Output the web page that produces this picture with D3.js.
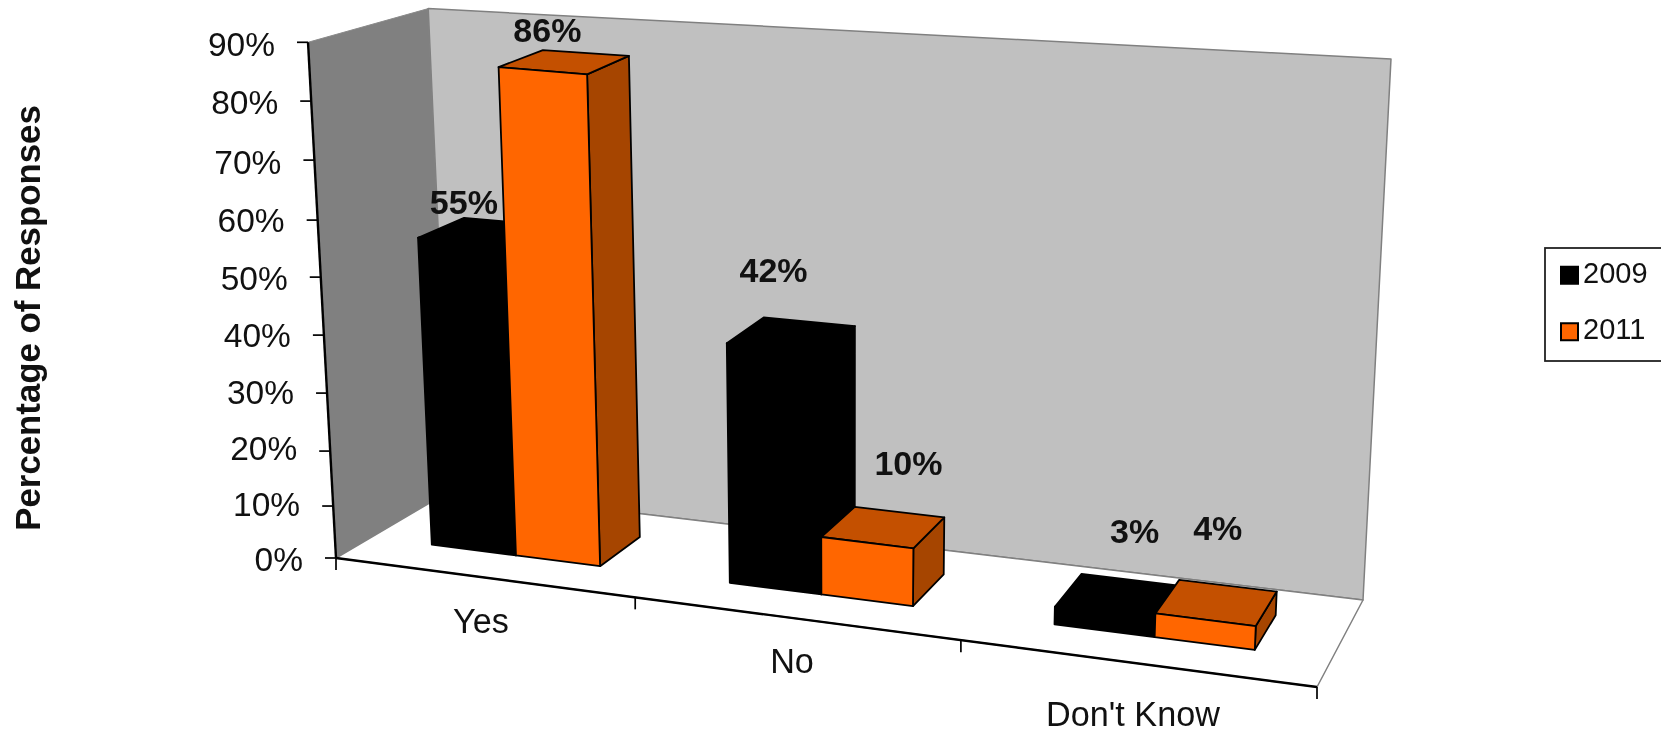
<!DOCTYPE html>
<html><head><meta charset="utf-8">
<script src="https://cdn.jsdelivr.net/npm/d3@7"></script>
<style>html,body{margin:0;background:#fff}svg{display:block;filter:blur(0.7px)}text{font-family:"Liberation Sans",Arial,sans-serif;fill:#111}</style>
</head><body><svg id="c" width="1661" height="732"></svg>
<script>
// ---- data ----
const categories = ["Yes", "No", "Don't Know"];
const seriesNames = ["2009", "2011"];
const values2009 = [55, 42, 3];
const values2011 = [86, 10, 4];
const valueTicks = [0, 10, 20, 30, 40, 50, 60, 70, 80, 90];
const axisTitle = "Percentage of Responses";

// ---- layout ----
const faces = {
  "2009": {front: "#000", top: "#000", side: "#000"},
  "2011": {front: "#FF6600", top: "#C45000", side: "#A64500"}
};
// label nudges from the centre of each bar's top face (hand-moved in the original)
const labelNudge = {
  "2009": [[-20, -29], [-18, -64], [17, -65]],
  "2011": [[-17, -31], [25, -64], [1, -74]]
};
const svg = d3.select("#c");

// perspective: floor corners, and how category units spread along the floor
const uOfCat = d3.scaleLinear().domain([0, 1, 2, 3]).range([0, 0.305, 0.637, 1]);
const frontX = d3.scaleLinear().domain([0, 1]).range([336, 1317]);
const frontY = d3.scaleLinear().domain([0, 1]).range([558, 687]);
const backX = d3.scaleLinear().domain([0, 1]).range([450, 1363]);
const backY = d3.scaleLinear().domain([0, 1]).range([491, 600]);
const frontH = d3.scaleLinear().domain([0, 1]).range([5.73, 6.1]);
const backH = d3.scaleLinear().domain([0, 1]).range([5.36, 6.01]);
const lean = d3.scaleLinear().domain([336, 1363]).range([-0.311, 0.311]);
// value axis tick marks are slightly uneven in the picture; bars follow a gentler curve
const tickUnits = d3.scaleLinear().domain(valueTicks)
  .range([0, 9.07, 18.66, 28.78, 38.9, 49.02, 58.97, 69.44, 79.74, 90]);
const barUnits = d3.scaleLinear().domain([0, 50, 90]).range([0, 49.3, 90]);
const tickLabelY = d3.scaleLinear().domain(valueTicks)
  .range([559.3, 504.2, 448, 392, 335.8, 278.6, 220.3, 162, 102.8, 44.5]);

function project(cat, z, v, units) {
  const u = uOfCat(cat);
  const bx = d3.interpolateNumber(frontX(u), backX(u))(z);
  const by = d3.interpolateNumber(frontY(u), backY(u))(z);
  const h = d3.interpolateNumber(frontH(u), backH(u))(z);
  const w = (units || barUnits)(v);
  return [bx + lean(bx) * w, by - h * w];
}
const line = d3.line();
const closed = pts => line(pts) + "Z";
const poly = (pts, fill, stroke, sw) => svg.append("path").attr("d", closed(pts))
  .attr("fill", fill).attr("stroke", stroke || "none").attr("stroke-width", sw || 0).attr("stroke-linejoin", "round");

// ---- walls and floor ----
poly([project(0,0,0), project(0,1,0), project(0,1,90), project(0,0,90)], "#808080", "#8a8a8a", 1);
poly([project(0,1,0), project(3,1,0), project(3,1,90), project(0,1,90)], "#C0C0C0", "#808080", 1.5);
poly([project(0,0,0), project(3,0,0), project(3,1,0), project(0,1,0)], "#fff", "#808080", 1.5);

// ---- axes ----
const ax = (a, b, w) => svg.append("line").attr("x1", a[0]).attr("y1", a[1]).attr("x2", b[0]).attr("y2", b[1])
  .attr("stroke", "#000").attr("stroke-width", w);
ax(project(0,0,0), project(0,0,90), 2.4);
ax(project(0,0,0), project(3,0,0), 2.4);
valueTicks.forEach(t => {
  const p = project(0,0,t,tickUnits);
  ax([p[0] - 11, p[1]], p, 1.7);
  svg.append("text").attr("x", p[0] - 33).attr("y", tickLabelY(t) + 11.5).attr("text-anchor", "end")
    .attr("font-size", 33.5).text(t + "%");
});
d3.range(0, 4).forEach(c => { const p = project(c,0,0); ax(p, [p[0], p[1] + 12], 1.7); });
const catLabelAt = [[481, 622], [792, 662], [1133, 715]];
categories.forEach((c, i) => {
  svg.append("text").attr("x", catLabelAt[i][0]).attr("y", catLabelAt[i][1] + 11)
    .attr("text-anchor", "middle").attr("font-size", 34.2).text(c);
});
svg.append("text").attr("transform", "translate(40,318) rotate(-90)").attr("text-anchor", "middle")
  .attr("font-size", 34.8).attr("font-weight", "bold").text(axisTitle);

// ---- bars ----
const inner = d3.scaleBand().domain(seriesNames).range([0.205, 0.78]);
const seriesValues = {"2009": values2009, "2011": values2011};
const zF = 0.314, zB = 0.72;
categories.forEach((c, i) => {
  seriesNames.forEach(s => {
    const v = seriesValues[s][i], col = faces[s];
    const a = i + inner(s), b = a + inner.bandwidth();
    const sw = 1.8;
    poly([project(b,zF,0), project(b,zB,0), project(b,zB,v), project(b,zF,v)], col.side, "#000", sw);
    poly([project(a,zF,v), project(b,zF,v), project(b,zB,v), project(a,zB,v)], col.top, "#000", sw);
    poly([project(a,zF,0), project(b,zF,0), project(b,zF,v), project(a,zF,v)], col.front, "#000", sw);
  });
});
// labels above everything
categories.forEach((c, i) => {
  seriesNames.forEach(s => {
    const v = seriesValues[s][i];
    const a = i + inner(s), m = a + inner.bandwidth() / 2;
    const p = project(m, (zF + zB) / 2, v), n = labelNudge[s][i];
    svg.append("text").attr("x", p[0] + n[0]).attr("y", p[1] + n[1] + 11.5).attr("text-anchor", "middle")
      .attr("font-size", 34).attr("font-weight", "bold").text(v + "%");
  });
});

// ---- legend ----
svg.append("rect").attr("x", 1545).attr("y", 248).attr("width", 140).attr("height", 113)
  .attr("fill", "#fff").attr("stroke", "#222").attr("stroke-width", 1.8);
seriesNames.forEach((s, i) => {
  const y = d3.scaleBand().domain(seriesNames).range([248, 361])(s) + 113 / 4 - 1.5;
  svg.append("rect").attr("x", 1561).attr("y", y - 8).attr("width", 17).attr("height", 17)
    .attr("fill", faces[s].front).attr("stroke", "#000").attr("stroke-width", 2);
  svg.append("text").attr("x", 1583).attr("y", y + 8).attr("font-size", 29).text(s);
});
</script></body></html>
